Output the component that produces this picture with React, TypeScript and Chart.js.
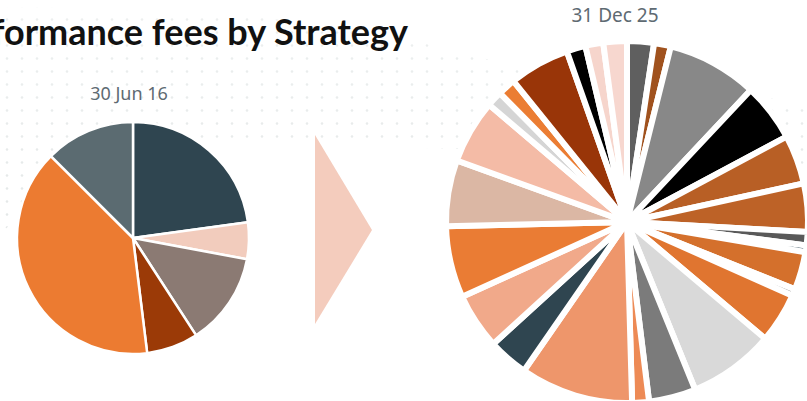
import React, { useEffect, useRef } from "react";
import { Chart, registerables } from "chart.js";

Chart.register(...registerables);

// ---- Data ----
const titleText = "Performance fees by Strategy";
const leftDate = "30 Jun 16";
const rightDate = "31 Dec 25";

const leftLabels = ["Strategy 1", "Strategy 2", "Strategy 3", "Strategy 4", "Strategy 5", "Strategy 6"];
const leftValues = [22.8, 5.1, 12.9, 7.2, 39.4, 12.5];
const leftColors = ["#2F4550", "#F2CCBD", "#8B7A73", "#9B3A07", "#EC7B31", "#5B6B71"];

const rightLabels = [
  "Strategy A", "Strategy B", "Strategy C", "Strategy D", "Strategy E", "Strategy F",
  "Strategy G", "Strategy H", "Strategy I", "Strategy J", "Strategy K", "Strategy L",
  "Strategy M", "Strategy N", "Strategy O", "Strategy P", "Strategy Q", "Strategy R",
  "Strategy S", "Strategy T", "Strategy U", "Strategy V", "Strategy W", "Strategy X",
  "Strategy Y", "Strategy Z",
];
const rightValues = [
  2.4, 1.5, 8.1, 5.2, 4.4, 4.3,
  1.2, 0.6, 3.4, 0.6, 4.5, 7.7,
  4.2, 1.5, 10.1, 3.6, 5.0, 6.4,
  5.9, 5.7, 1.4, 1.6, 5.4, 1.7,
  1.6, 2.1,
];
const rightColors = [
  "#5F5F5F", "#A0521E", "#888888", "#000000", "#B85F25", "#BD6227",
  "#595959", "#2F4A5A", "#D4702C", "#A6A6A6", "#E07530", "#D9D9D9",
  "#7B7B7B", "#ED8A55", "#EE966B", "#2F4550", "#F1A98A", "#EA7C34",
  "#DBB7A4", "#F4BBA6", "#D5D5D5", "#EB7D33", "#993508", "#000000",
  "#F6D5CC", "#F7D7CF",
];

type PieProps = {
  labels: string[];
  values: number[];
  colors: string[];
  size: number;
  radius: number;
  border: number;
  left: number;
  top: number;
};

function Pie({ labels, values, colors, size, radius, border, left, top }: PieProps) {
  const ref = useRef<HTMLCanvasElement>(null);
  useEffect(() => {
    if (!ref.current) return;
    const chart = new Chart(ref.current, {
      type: "pie",
      data: {
        labels,
        datasets: [
          {
            data: values,
            backgroundColor: colors,
            borderColor: "#ffffff",
            borderWidth: border,
          },
        ],
      },
      options: {
        responsive: false,
        animation: false,
        devicePixelRatio: 1,
        radius,
        layout: { padding: 0 },
        plugins: {
          legend: { display: false },
          tooltip: { enabled: false },
        },
        events: [],
      },
    });
    return () => chart.destroy();
  }, []);
  return (
    <canvas
      ref={ref}
      width={size}
      height={size}
      style={{ position: "absolute", left, top, width: size, height: size }}
    />
  );
}

export default function App() {
  return (
    <div
      style={{
        position: "fixed",
        left: 0,
        top: 0,
        width: 807,
        height: 401,
        overflow: "hidden",
        background: "#ffffff",
      }}
    >
      <svg
        width={807}
        height={401}
        style={{ position: "absolute", left: 0, top: 0 }}
      >
        <defs>
          <pattern id="dots" width="15" height="13" patternUnits="userSpaceOnUse">
            <circle cx="7" cy="6.5" r="1.3" fill="#DCE1E1" />
          </pattern>
          <linearGradient id="fade" x1="0" y1="0" x2="0" y2="1">
            <stop offset="0" stopColor="#fff" stopOpacity="0.5" />
            <stop offset="1" stopColor="#fff" stopOpacity="1" />
          </linearGradient>
          <mask id="bandMask">
            <rect x="0" y="0" width="807" height="401" fill="url(#fade)" />
          </mask>
        </defs>
        <path
          d="M0,8 C120,6 260,14 360,30 C440,44 520,70 600,86 C680,100 740,96 807,100 L807,175 C740,160 660,150 560,150 C460,150 330,146 220,140 C140,136 60,170 0,235 Z"
          fill="url(#dots)"
          mask="url(#bandMask)"
        />
      </svg>

      <div
        style={{
          position: "absolute",
          right: 399,
          top: 13,
          whiteSpace: "nowrap",
          fontFamily: "Lato, 'Noto Sans', sans-serif",
          fontWeight: 700,
          fontSize: 36,
          lineHeight: "36px",
          color: "#111111",
        }}
      >
        {titleText}
      </div>

      <div
        style={{
          position: "absolute",
          left: 129 - 100,
          width: 200,
          top: 84,
          textAlign: "center",
          fontFamily: "'Noto Sans', sans-serif",
          fontSize: 18,
          lineHeight: "18px",
          color: "#5E6A72",
        }}
      >
        {leftDate}
      </div>

      <div
        style={{
          position: "absolute",
          left: 615 - 100,
          width: 200,
          top: 6,
          textAlign: "center",
          fontFamily: "'Noto Sans', sans-serif",
          fontSize: 19,
          lineHeight: "19px",
          color: "#5E6A72",
        }}
      >
        {rightDate}
      </div>

      <div
        style={{
          position: "absolute",
          left: 315,
          top: 135,
          width: 57,
          height: 189,
          background: "#F4CCBD",
          clipPath: "polygon(0 0, 100% 50.3%, 0 100%)",
        }}
      />

      <Pie
        labels={leftLabels}
        values={leftValues}
        colors={leftColors}
        size={260}
        radius={116}
        border={2.5}
        left={133 - 130}
        top={238 - 130}
      />
      <Pie
        labels={rightLabels}
        values={rightValues}
        colors={rightColors}
        size={380}
        radius={181}
        border={6}
        left={627 - 190}
        top={222 - 190}
      />
    </div>
  );
}
